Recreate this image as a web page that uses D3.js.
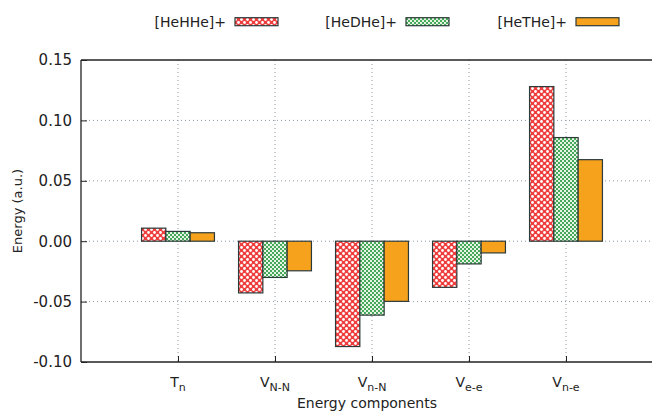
<!DOCTYPE html>
<html>
<head>
<meta charset="utf-8">
<script src="https://cdn.jsdelivr.net/npm/d3@7"></script>
<style>
  body { margin: 0; background: #fff; }
  svg { display: block; font-family: "DejaVu Sans", sans-serif; }
</style>
</head>
<body>
<div id="chart"></div>
<script>
// data
const categories = ["T", "V", "V", "V", "V"];
const subscripts = ["n", "N-N", "n-N", "e-e", "n-e"];
const seriesNames = ["[HeHHe]+", "[HeDHe]+", "[HeTHe]+"];
const heHHe = [0.0108, -0.0428, -0.0872, -0.0382, 0.1280];
const heDHe = [0.0081, -0.0300, -0.0612, -0.0188, 0.0858];
const heTHe = [0.0070, -0.0245, -0.0498, -0.0097, 0.0675];
const yTicks = [-0.10, -0.05, 0.00, 0.05, 0.10, 0.15];

const series = [heHHe, heDHe, heTHe];

const W = 652, H = 412;
const margin = {top: 60, left: 81, bottom: 50};
const plotH = H - margin.top - margin.bottom;

const svg = d3.select("#chart").append("svg")
  .attr("width", W).attr("height", H);

const defs = svg.append("defs");
// red with white dots
const pr = defs.append("pattern").attr("id", "pRed")
  .attr("patternUnits", "userSpaceOnUse").attr("width", 6).attr("height", 6);
pr.append("rect").attr("width", 6).attr("height", 6).attr("fill", "#ef3e3e");
pr.append("circle").attr("cx", 1.5).attr("cy", 1.5).attr("r", 1.4).attr("fill", "#fff");
pr.append("circle").attr("cx", 4.5).attr("cy", 4.5).attr("r", 1.4).attr("fill", "#fff");
// green fine checker
const pg = defs.append("pattern").attr("id", "pGreen")
  .attr("patternUnits", "userSpaceOnUse").attr("width", 4).attr("height", 4);
pg.append("rect").attr("width", 4).attr("height", 4).attr("fill", "#e4f3e2");
pg.append("rect").attr("width", 2).attr("height", 2).attr("fill", "#45a85a");
pg.append("rect").attr("x", 2).attr("y", 2).attr("width", 2).attr("height", 2).attr("fill", "#45a85a");

const fills = ["url(#pRed)", "url(#pGreen)", "#f6a21d"];

const x = d3.scaleLinear().domain([-1, 5]).range([margin.left, 663]);
const y = d3.scaleLinear().domain([-0.10, 0.15]).range([margin.top + plotH, margin.top]);
const barW = 24.3;

const g = svg.append("g");

// grid
g.selectAll(".hgrid").data(yTicks.slice(1, -1)).join("line")
  .attr("x1", margin.left).attr("x2", W)
  .attr("y1", d => y(d)).attr("y2", d => y(d))
  .attr("stroke", "#8a9aa6").attr("stroke-width", 1).attr("stroke-dasharray", "1,3");
g.selectAll(".vgrid").data(categories).join("line")
  .attr("x1", (d, i) => x(i)).attr("x2", (d, i) => x(i))
  .attr("y1", margin.top).attr("y2", margin.top + plotH)
  .attr("stroke", "#8a9aa6").attr("stroke-width", 1).attr("stroke-dasharray", "1,3");

// bars
series.forEach((vals, s) => {
  g.selectAll(".bar" + s).data(vals).join("rect")
    .attr("x", (d, i) => x(i) + (s - 1.5) * barW)
    .attr("width", barW)
    .attr("y", d => y(Math.max(0, d)))
    .attr("height", d => Math.abs(y(d) - y(0)))
    .attr("fill", fills[s])
    .attr("stroke", "#2d3a3a").attr("stroke-width", 1.2);
});

// axes (hyphen instead of unicode minus, as in the original)
const fmt = d => d3.format(".2f")(d).replace("\u2212", "-");
const yAxis = g.append("g")
  .attr("transform", `translate(${margin.left},0)`)
  .call(d3.axisLeft(y).tickValues(yTicks).tickFormat(fmt).tickSize(-6).tickPadding(9));
yAxis.select(".domain").remove();
yAxis.selectAll("text").attr("font-size", 15).attr("fill", "#222").attr("font-family", "DejaVu Sans");
yAxis.selectAll("line").attr("stroke", "#222");

const xAxis = g.append("g")
  .attr("transform", `translate(0,${margin.top + plotH})`)
  .call(d3.axisBottom(x).tickValues(d3.range(categories.length)).tickSize(-6).tickFormat(""));
xAxis.select(".domain").remove();
xAxis.selectAll("line").attr("stroke", "#222");

// x tick labels with subscripts
const lbl = g.selectAll(".xlbl").data(categories).join("text")
  .attr("x", (d, i) => x(i)).attr("y", 387)
  .attr("text-anchor", "middle").attr("font-size", 14).attr("fill", "#222");
lbl.append("tspan").text(d => d);
lbl.append("tspan").attr("font-size", 11).attr("dy", 4).text((d, i) => subscripts[i]);

// frame
g.append("line").attr("x1", margin.left).attr("x2", margin.left)
  .attr("y1", margin.top).attr("y2", margin.top + plotH).attr("stroke", "#222").attr("stroke-width", 1.3);
g.append("line").attr("x1", margin.left).attr("x2", W)
  .attr("y1", margin.top + plotH).attr("y2", margin.top + plotH).attr("stroke", "#222").attr("stroke-width", 1.3);
g.append("line").attr("x1", margin.left).attr("x2", W)
  .attr("y1", margin.top).attr("y2", margin.top).attr("stroke", "#222").attr("stroke-width", 1.3);

// axis titles
svg.append("text").attr("x", 367).attr("y", 408).attr("text-anchor", "middle")
  .attr("font-size", 14).attr("fill", "#222").text("Energy components");
svg.append("text").attr("transform", "translate(22,211) rotate(-90)").attr("text-anchor", "middle")
  .attr("font-size", 13).attr("fill", "#222").text("Energy (a.u.)");

// legend
const legX = [226, 397, 567];
seriesNames.forEach((name, s) => {
  svg.append("text").attr("x", legX[s]).attr("y", 26.5).attr("text-anchor", "end")
    .attr("font-size", 14).attr("fill", "#222").text(name);
  svg.append("rect").attr("x", legX[s] + 9).attr("y", 17.7).attr("width", 43).attr("height", 8)
    .attr("fill", fills[s]).attr("stroke", "#2d3a3a").attr("stroke-width", 1.2);
});
</script>
</body>
</html>
